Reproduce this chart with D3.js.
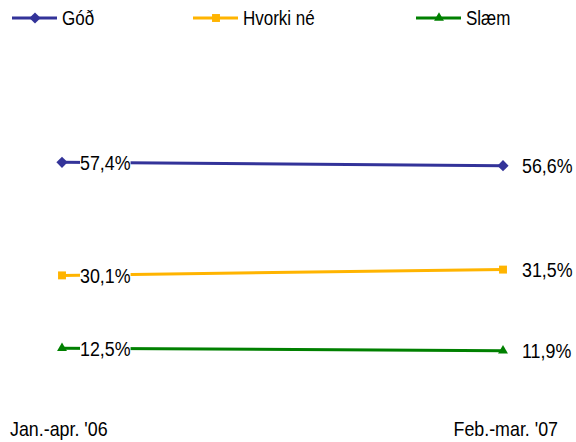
<!DOCTYPE html>
<html><head><meta charset="utf-8">
<script src="https://cdn.jsdelivr.net/npm/d3@7"></script>
<style>body{margin:0;background:#fff}svg{display:block}text{font-family:"Liberation Sans",Arial,sans-serif;fill:#000}</style>
</head><body><svg id="c" width="576" height="442"></svg>
<script>
const categories = ["Jan.-apr. '06", "Feb.-mar. '07"];
const seriesNames = ["Góð", "Hvorki né", "Slæm"];
const good = [57.4, 56.6];
const neither = [30.1, 31.5];
const bad = [12.5, 11.9];
const colors = ["#333399", "#FFB400", "#008000"];
const symbols = [d3.symbolDiamond2, d3.symbolSquare2, d3.symbolTriangle2];
const fmt = v => d3.format(".1f")(v).replace(".", ",") + "%";
const FS = 21;
const SQ = 0.85; // horizontal condensing of the narrow font

const series = seriesNames.map((n, i) => ({name: n, values: [good, neither, bad][i], color: colors[i], sym: symbols[i]}));
const svg = d3.select("#c");
const x = d3.scalePoint().domain(categories).range([62, 503]);
const y = d3.scaleLinear().domain([0, 60]).range([400, 151.6]);

const symPath = (s, size) => d3.symbol().type(s).size(size)();
// condensed text drawn through a scaled group
const ntext = (parent, tx, ty, str, size, anchor, dy) => {
  const g = parent.append("g").attr("transform", `translate(${tx},${ty}) scale(${SQ},1)`);
  const t = g.append("text").attr("font-size", size).attr("text-anchor", anchor || "start")
    .attr("dy", dy || 0).text(str);
  return g;
};

series.forEach(s => {
  const pts = categories.map((c, i) => [x(c), y(s.values[i])]);
  svg.append("path").attr("d", d3.line()(pts)).attr("fill", "none")
    .attr("stroke", s.color).attr("stroke-width", 3);
  pts.forEach(p => {
    svg.append("path").attr("d", symPath(s.sym, s.sym === d3.symbolTriangle2 ? 70 : 80))
      .attr("transform", `translate(${p[0]},${p[1]})`).attr("fill", s.color);
  });
  const g = ntext(svg, x(categories[0]) + 18, y(s.values[0]), fmt(s.values[0]), FS, "start", "0.35em");
  const bb = g.select("text").node().getBBox();
  g.insert("rect", "text").attr("x", bb.x).attr("y", -3).attr("width", bb.width).attr("height", 6).attr("fill", "#fff");
  ntext(svg, x(categories[1]) + 19, y(s.values[1]), fmt(s.values[1]), FS, "start", "0.35em");
});

ntext(svg, 10, 436, categories[0], FS, "start");
ntext(svg, 558, 436, categories[1], FS, "end");

const legX = [12, 193, 416];
series.forEach((s, i) => {
  const g = svg.append("g").attr("transform", `translate(${legX[i]},18)`);
  g.append("line").attr("x1", 0).attr("x2", 45).attr("stroke", s.color).attr("stroke-width", 3);
  g.append("path").attr("d", symPath(s.sym, s.sym === d3.symbolTriangle2 ? 70 : 80))
    .attr("transform", "translate(23,0)").attr("fill", s.color);
  ntext(g, 50, 0, s.name, 20, "start", "0.35em");
});
</script></body></html>
